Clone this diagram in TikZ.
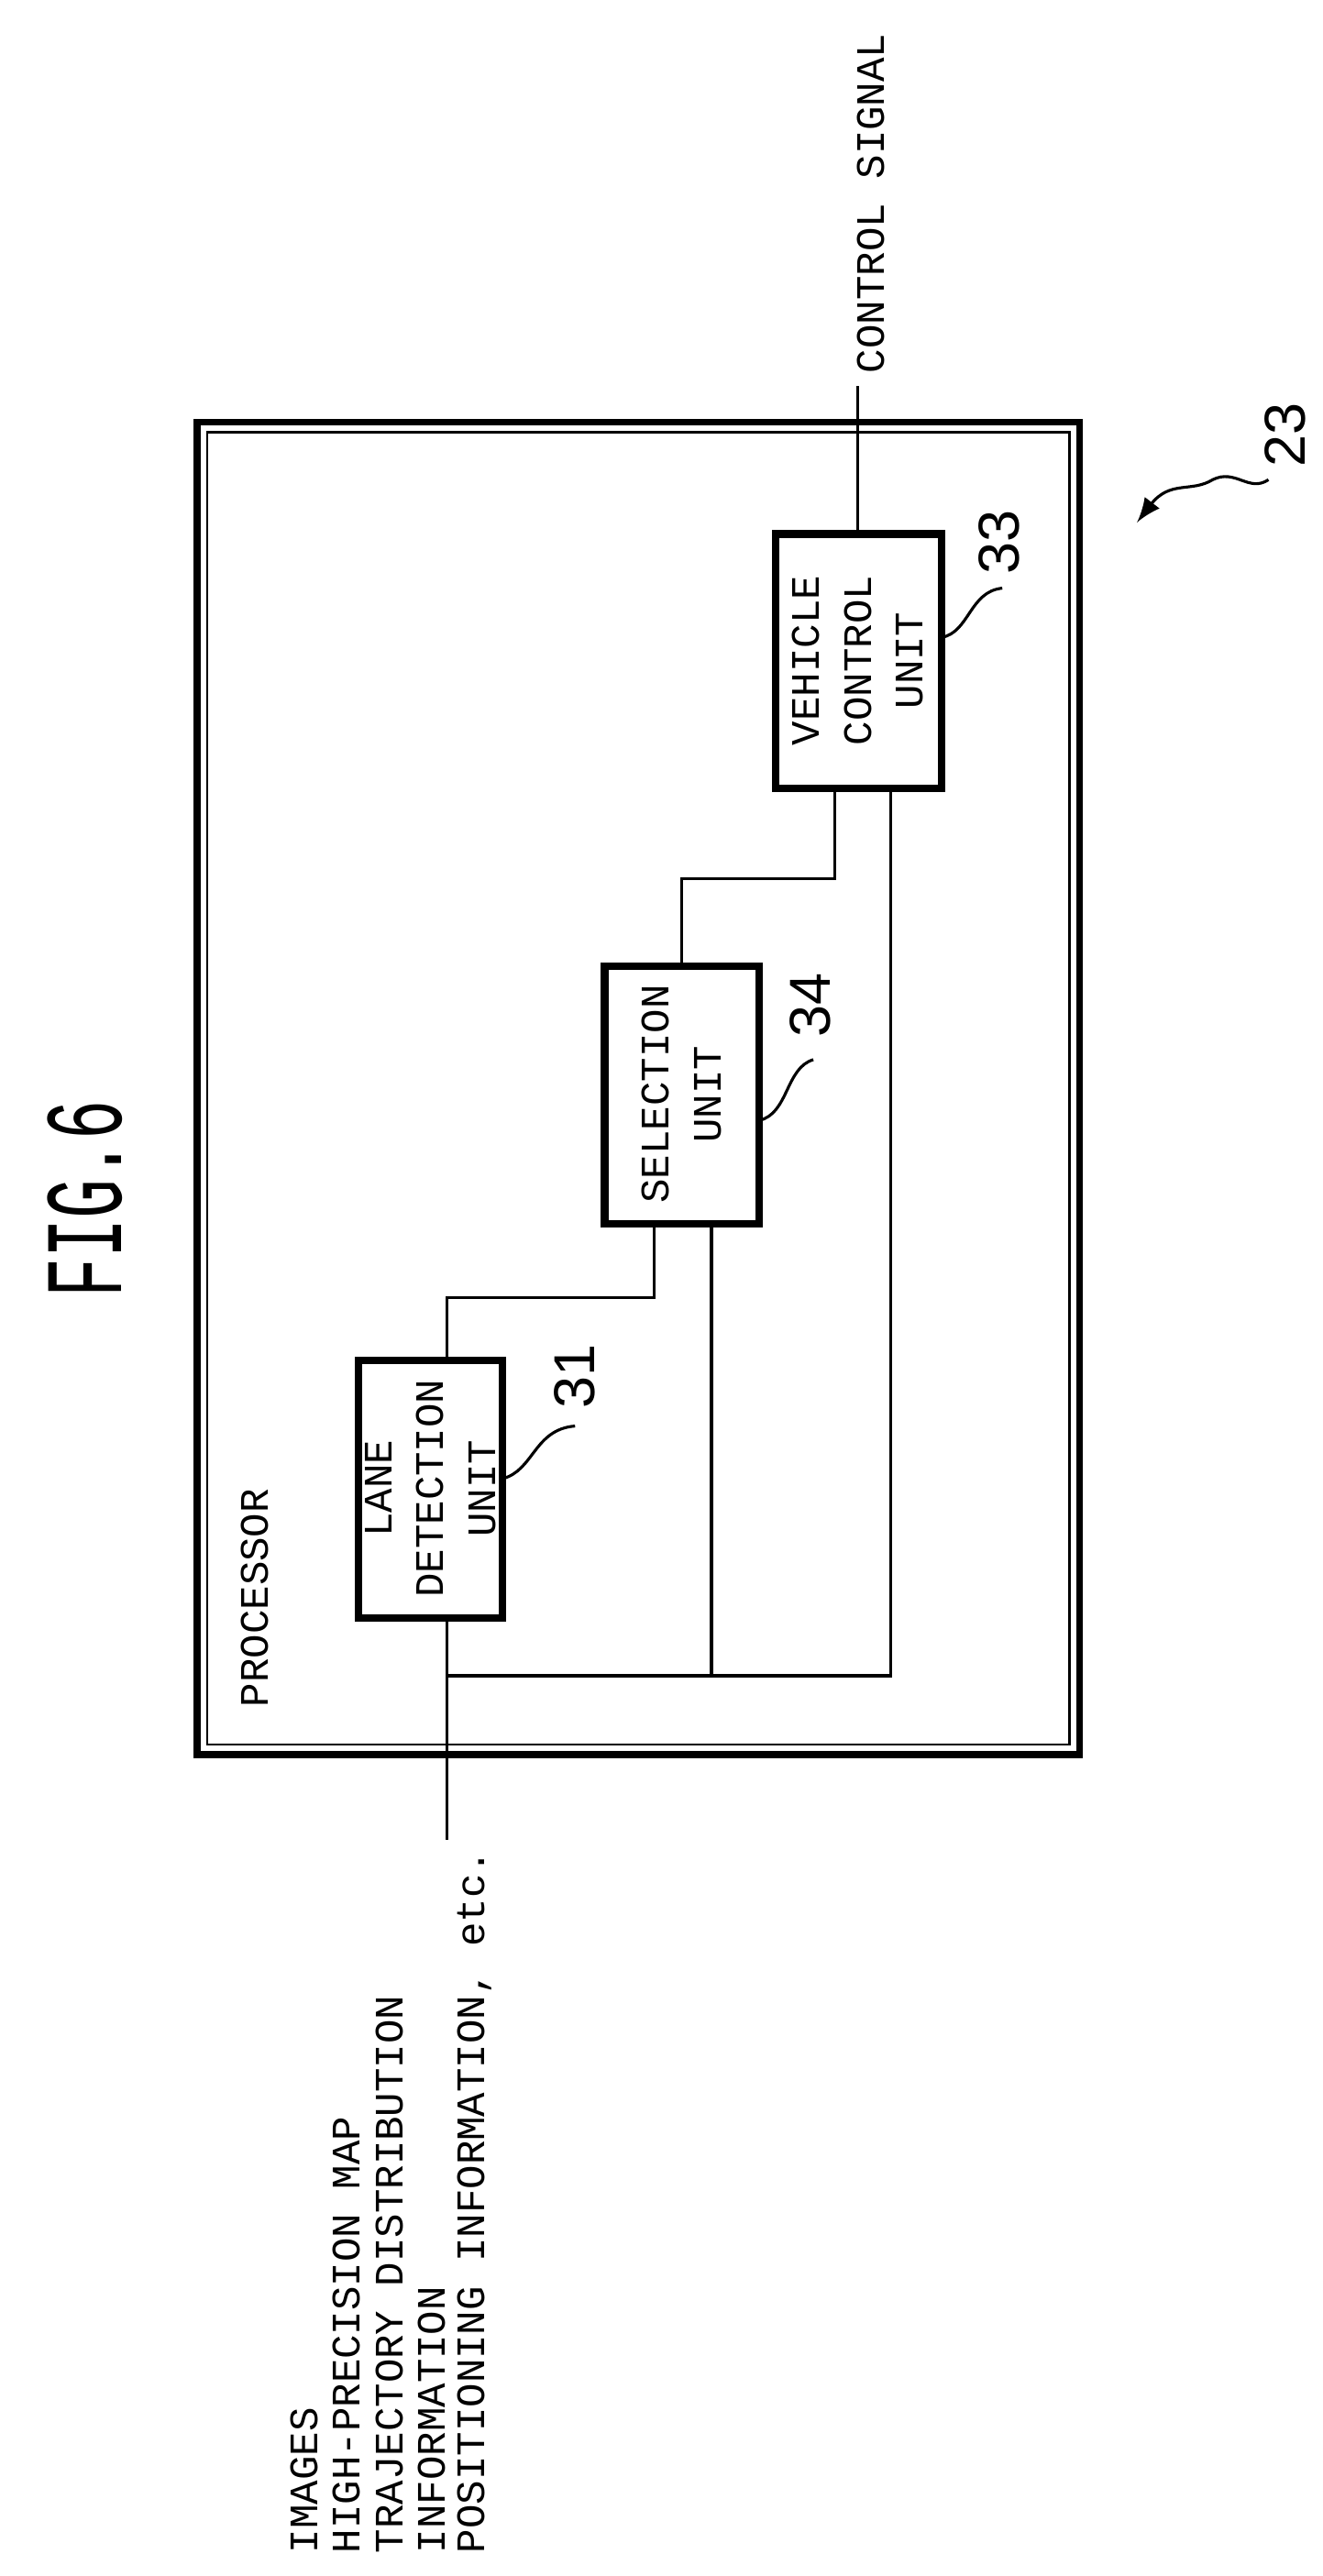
\documentclass[tikz,border=0pt]{standalone}
\usepackage{fontspec}
\setmainfont{Liberation Mono}
\newfontfamily\numf{Liberation Sans}
\begin{document}
\begin{tikzpicture}[x=0.1mm,y=-0.1mm,line width=0.5pt,
  lbl/.style={rotate=90,font=\fontsize{7}{9}\selectfont,inner sep=0pt},
  num/.style={rotate=90,font=\numf\fontsize{10}{10}\selectfont,inner sep=0pt}]
\useasboundingbox (0,0) rectangle (805,1568);
\draw[line width=1.2pt] (120,257) rectangle (657,1068);
\draw[line width=0.4pt] (126,263) rectangle (651,1062);
\node[lbl,anchor=west] (proc) at (155,1040) {PROCESSOR};
\draw[line width=1.3pt] (218,828) rectangle (306,985);
\node[lbl,align=center] (lanet) at (262,906) {LANE\\DETECTION\\UNIT};
\draw[line width=1.3pt] (368,588) rectangle (462,745);
\node[lbl,align=center] (selt) at (415,666) {SELECTION\\UNIT};
\draw[line width=1.3pt] (472,325) rectangle (573,480);
\node[lbl,align=center] (veht) at (522,402) {VEHICLE\\CONTROL\\UNIT};
% connectors
\draw (272,1120) -- (272,985);
\draw (272,1020) -- (542,1020) -- (542,480);
\draw (433,1020) -- (433,745);
\draw (272,828) -- (272,790) -- (398,790) -- (398,745);
\draw (415,588) -- (415,535) -- (508,535) -- (508,480);
\draw (522,325) -- (522,235);
\node[lbl,anchor=west] (cs) at (530,228) {CONTROL SIGNAL};
% reference numerals
\draw (306,900) .. controls (325,895) and (325,870) .. (350,868);
\node[num] (n31) at (350,838) {31};
\draw (462,682) .. controls (480,678) and (478,650) .. (495,645);
\node[num] (n34) at (493,612) {34};
\draw (573,388) .. controls (590,385) and (590,360) .. (610,358);
\node[num] (n33) at (608,330) {33};
\node[num] (n23) at (782,265) {23};
\draw[-latex] (772,292) .. controls (760,300) and (752,285) .. (738,292) .. controls (725,300) and (712,292) .. (692,318);
\node[rotate=90,inner sep=0pt] (fig) at (52,730) {\resizebox{12mm}{4.5mm}{FIG.6}};
% inputs
\node[lbl,anchor=west] (i1) at (185,1555) {IMAGES};
\node[lbl,anchor=west] (i2) at (211,1555) {HIGH-PRECISION MAP};
\node[lbl,anchor=west] (i3) at (237,1555) {TRAJECTORY DISTRIBUTION};
\node[lbl,anchor=west] (i4) at (263,1555) {INFORMATION};
\node[lbl,anchor=west] (i5) at (289,1555) {POSITIONING INFORMATION, etc.};
\end{tikzpicture}
\end{document}
